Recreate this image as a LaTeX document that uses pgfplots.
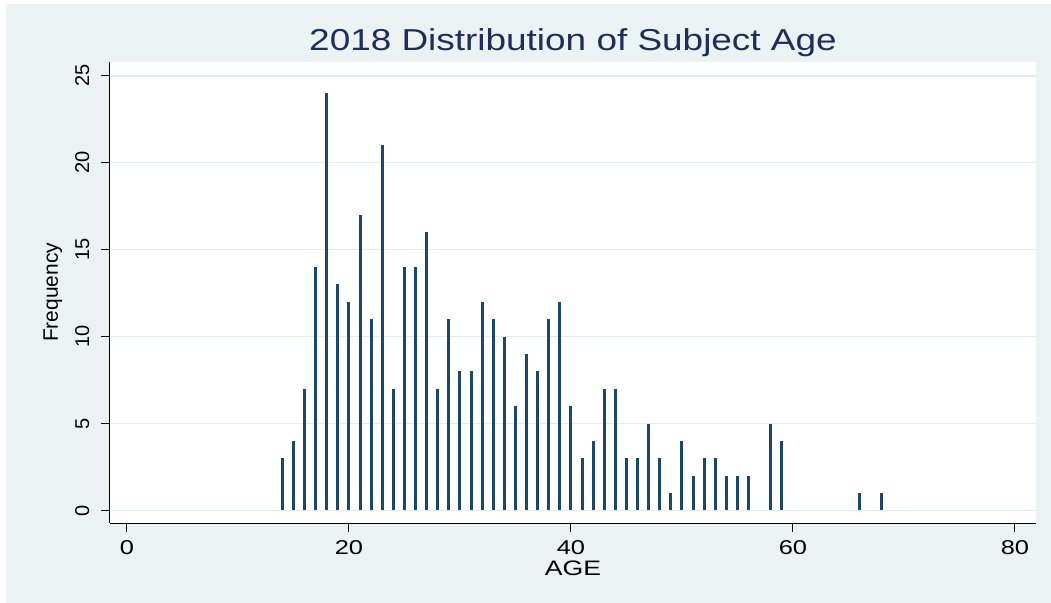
\documentclass[border=0pt]{standalone}
\usepackage{fontspec}
\setmainfont{Liberation Sans}
\newfontfamily\widefont[FakeStretch=1.27]{Liberation Sans}
\newfontfamily\titlefont[FakeStretch=1.22]{Liberation Sans}
\usepackage{pgfplots}
\pgfplotsset{compat=1.18}

\definecolor{stbg}{HTML}{EAF2F3}
\definecolor{stgrid}{HTML}{E3ECEF}
\definecolor{stbar}{HTML}{1A476F}
\definecolor{sttitle}{HTML}{1E2D5A}

\pgfplotstableread{
age freq
14 3
15 4
16 7
17 14
18 24
19 13
20 12
21 17
22 11
23 21
24 7
25 14
26 14
27 16
28 7
29 11
30 8
31 8
32 12
33 11
34 10
35 6
36 9
37 8
38 11
39 12
40 6
41 3
42 4
43 7
44 7
45 3
46 3
47 5
48 3
49 1
50 4
51 2
52 3
53 3
54 2
55 2
56 2
58 5
59 4
66 1
68 1
}\agedata

\begin{document}
\begin{tikzpicture}
% page and outer (graph region) background, 1px = 0.75pt
\fill[white] (0,0) rectangle (788.25pt,-452.25pt);
\fill[stbg] (4.5pt,-3pt) rectangle (788.25pt,-452.25pt);
\begin{axis}[
    at={(82.5pt,-392.25pt)}, anchor=south west,
    scale only axis,
    width=694.5pt, height=345.75pt,
    xmin=-1.53, xmax=81.9,
    ymin=-0.72, ymax=25.79,
    axis x line*=bottom, axis y line*=left,
    axis line style={black, line width=0.75pt, -},
    axis background/.style={fill=white},
    xtick={0,20,40,60,80},
    ytick={0,5,10,15,20,25},
    tick align=outside,
    major tick length=6.75pt,
    tick style={black, line width=0.75pt},
    ymajorgrids,
    grid style={stgrid, line width=1.2pt},
    /pgf/number format/assume math mode=true,
    xticklabel style={font=\widefont\fontsize{15}{15}\selectfont, black,
        anchor=north, inner sep=0pt, yshift=-6pt},
    yticklabel style={font=\fontsize{15}{15}\selectfont, black,
        rotate=90, anchor=south, inner sep=0pt, yshift=8.5pt},
    title={2018 Distribution of Subject Age},
    title style={font=\titlefont\fontsize{22.7}{22.7}\selectfont, color=sttitle,
        at={(axis description cs:0.5,1.0071)}, anchor=base},
    xlabel={AGE},
    xlabel style={font=\widefont\fontsize{15.7}{15.7}\selectfont,
        at={(axis description cs:0.5,-0.1128)}, anchor=base},
    ylabel={Frequency},
    ylabel style={font=\fontsize{15.7}{15.7}\selectfont,
        at={(axis description cs:-0.0562,0.5)}, anchor=base, rotate=0},
]
\addplot[ycomb, stbar, line width=2.3pt, no markers] table[x=age, y=freq] {\agedata};
\end{axis}
\end{tikzpicture}
\end{document}
